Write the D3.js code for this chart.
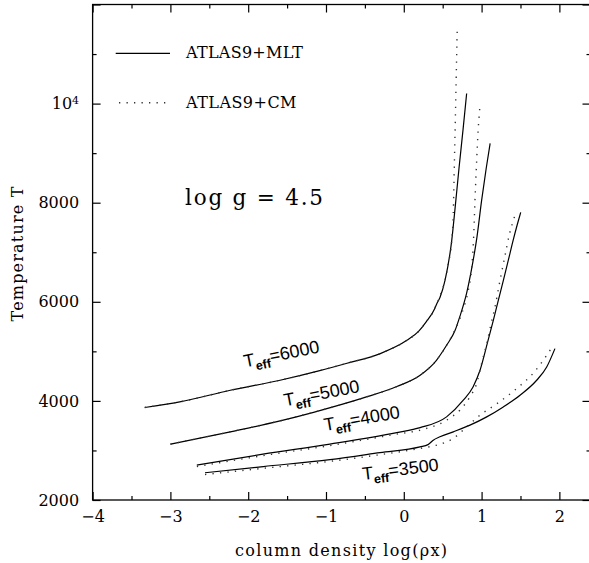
<!DOCTYPE html>
<html>
<head>
<meta charset="utf-8">
<script src="https://cdn.jsdelivr.net/npm/d3@7"></script>
<style>
  html, body { margin: 0; padding: 0; background: #fff; }
  svg { display: block; }
</style>
</head>
<body>
<svg id="chart" width="589" height="563"></svg>
<script>
// Axis ticks
const xMajorTicks = [-4, -3, -2, -1, 0, 1, 2];
const xMinorTicks = [-3.5, -2.5, -1.5, -0.5, 0.5, 1.5];
const yMajorTicks = [2000, 4000, 6000, 8000, 10000, 12000];
const yMinorTicks = [3000, 5000, 7000, 9000, 11000];
const yLabelled = [2000, 4000, 6000, 8000, 10000];

// Temperature structure T(log rho x), pairs of [log(rho x), T]
// ATLAS9 + mixing-length convection (solid)
const mlt6000 = [[-3.33,3867],[-2.88,3980],[-2.23,4215],[-1.59,4417],[-1.08,4610],[-0.73,4760],[-0.31,4950],[0.04,5222],[0.19,5404],[0.29,5600],[0.40,5870],[0.42,5947],[0.465,6088],[0.53,6431],[0.616,7236],[0.66,7900],[0.71,8700],[0.76,9450],[0.808,10203]];
const mlt5000 = [[-3.00,3128],[-2.23,3376],[-1.59,3597],[-1.16,3770],[-0.52,4060],[-0.09,4290],[0.21,4518],[0.42,4820],[0.55,5122],[0.66,5424],[0.72,5700],[0.81,6190],[0.87,6650],[0.94,7300],[1.00,8042],[1.06,8700],[1.11,9196]];
const mlt4000 = [[-2.66,2705],[-1.81,2926],[-0.95,3128],[-0.09,3360],[0.21,3460],[0.55,3678],[0.765,4014],[0.89,4282],[0.98,4618],[1.08,5200],[1.15,5620],[1.215,6028],[1.28,6431],[1.343,6834],[1.407,7250],[1.459,7560],[1.503,7806]];
const mlt3500 = [[-2.555,2550],[-1.806,2675],[-0.949,2816],[-0.306,2957],[0.208,3073],[0.311,3118],[0.379,3208],[0.465,3275],[0.636,3376],[0.851,3511],[1.066,3678],[1.279,3879],[1.494,4115],[1.708,4417],[1.837,4685],[1.943,5055]];

// ATLAS9 + Canuto-Mazzitelli convection (dotted)
const cm6000 = [[-3.33,3867],[-2.88,3980],[-2.23,4215],[-1.59,4417],[-1.08,4610],[-0.73,4760],[-0.31,4950],[0.04,5222],[0.19,5404],[0.29,5600],[0.40,5870],[0.42,5947],[0.443,6028],[0.487,6209],[0.53,6431],[0.572,6767],[0.616,7236],[0.636,7774],[0.650,8781],[0.664,9788],[0.672,10392],[0.688,11567]];
const cm5000 = [[-3.00,3128],[-2.23,3376],[-1.59,3597],[-1.16,3770],[-0.52,4060],[-0.09,4290],[0.21,4518],[0.42,4820],[0.55,5122],[0.636,5363],[0.722,5665],[0.787,5968],[0.829,6229],[0.873,6699],[0.896,7236],[0.915,8042],[0.934,8747],[0.954,9412],[0.979,9955]];
const cm4000 = [[-2.66,2675],[-1.81,2896],[-0.95,3098],[-0.09,3330],[0.21,3410],[0.55,3611],[0.72,3813],[0.85,4081],[0.937,4350],[1.00,4753],[1.066,5156],[1.12,5540],[1.172,5893],[1.237,6431],[1.301,6930],[1.356,7350],[1.40,7600],[1.442,7806]];
const cm3500 = [[-2.555,2514],[-1.806,2640],[-0.949,2780],[-0.306,2915],[0.208,3041],[0.423,3108],[0.636,3243],[0.808,3476],[0.979,3712],[1.194,3940],[1.451,4250],[1.665,4560],[1.837,4920],[1.914,5102]];

const teffNames = ["6000", "5000", "4000", "3500"];
const legendNames = ["ATLAS9+MLT", "ATLAS9+CM"];

const svg = d3.select("#chart");
const serif = "'DejaVu Serif', 'Liberation Serif', serif";
const sans = "'Liberation Sans', Arial, sans-serif";

const plotLeft = 92.6, plotRight = 590.5, plotTop = 4.5, plotBottom = 500;
const x = d3.scaleLinear().domain([-4, 2.4]).range([plotLeft, plotRight]);
const y = d3.scaleLinear().domain([2000, 12000]).range([plotBottom, plotTop]);

// Frame
svg.append("rect")
  .attr("x", plotLeft).attr("y", plotTop)
  .attr("width", plotRight - plotLeft).attr("height", plotBottom - plotTop)
  .attr("fill", "none").attr("stroke", "#000").attr("stroke-width", 1.3);

function styleAxis(g) {
  g.select(".domain").remove();
  g.selectAll(".tick line").attr("stroke", "#000").attr("stroke-width", 1.2);
  g.selectAll(".tick text").attr("fill", "#000").attr("font-family", serif).attr("font-size", 16);
}

// Bottom axis (labelled) + minor ticks
svg.append("g").attr("transform", `translate(0,${plotBottom})`)
  .call(d3.axisBottom(x).tickValues(xMajorTicks).tickSize(-8).tickSizeOuter(0).tickPadding(10.5)
    .tickFormat(d => d < 0 ? "\u2212" + Math.abs(d) : String(d)))
  .call(styleAxis);
svg.append("g").attr("transform", `translate(0,${plotBottom})`)
  .call(d3.axisBottom(x).tickValues(xMinorTicks).tickSize(-4).tickSizeOuter(0).tickFormat(""))
  .call(styleAxis);

// Top axis
svg.append("g").attr("transform", `translate(0,${plotTop})`)
  .call(d3.axisTop(x).tickValues(xMajorTicks).tickSize(-8).tickSizeOuter(0).tickFormat(""))
  .call(styleAxis);
svg.append("g").attr("transform", `translate(0,${plotTop})`)
  .call(d3.axisTop(x).tickValues(xMinorTicks).tickSize(-4).tickSizeOuter(0).tickFormat(""))
  .call(styleAxis);

// Left axis
const yAxisG = svg.append("g").attr("transform", `translate(${plotLeft},0)`)
  .call(d3.axisLeft(y).tickValues(yMajorTicks).tickSize(-8).tickSizeOuter(0).tickPadding(13.5)
    .tickFormat(d => yLabelled.includes(d) ? String(d) : ""))
  .call(styleAxis);
svg.append("g").attr("transform", `translate(${plotLeft},0)`)
  .call(d3.axisLeft(y).tickValues(yMinorTicks).tickSize(-4).tickSizeOuter(0).tickFormat(""))
  .call(styleAxis);

// 10^4 written as a power of ten
yAxisG.selectAll(".tick text").filter(d => d === 10000)
  .text(null)
  .call(t => {
    t.append("tspan").text("10");
    t.append("tspan").attr("dy", "-0.45em").attr("font-size", 11).text("4");
  });

// Right axis
svg.append("g").attr("transform", `translate(${plotRight},0)`)
  .call(d3.axisRight(y).tickValues(yMajorTicks).tickSize(-8).tickSizeOuter(0).tickFormat(""))
  .call(styleAxis);
svg.append("g").attr("transform", `translate(${plotRight},0)`)
  .call(d3.axisRight(y).tickValues(yMinorTicks).tickSize(-4).tickSizeOuter(0).tickFormat(""))
  .call(styleAxis);

// Axis titles
svg.append("text")
  .attr("transform", "translate(23,254) rotate(-90)")
  .attr("text-anchor", "middle")
  .attr("font-family", serif).attr("font-size", 16)
  .attr("textLength", 135).attr("lengthAdjust", "spacing")
  .text("Temperature T");

svg.append("text")
  .attr("x", 341).attr("y", 556)
  .attr("text-anchor", "middle")
  .attr("font-family", serif).attr("font-size", 16)
  .attr("textLength", 212).attr("lengthAdjust", "spacing")
  .text("column density log(\u03C1x)");

// Curves
const line = d3.line().x(d => x(d[0])).y(d => y(d[1])).curve(d3.curveMonotoneX);
const plot = svg.append("g");

[mlt6000, mlt5000, mlt4000, mlt3500].forEach(s => {
  plot.append("path").datum(s).attr("d", line)
    .attr("fill", "none").attr("stroke", "#000").attr("stroke-width", 1.2);
});
[cm6000, cm5000, cm4000, cm3500].forEach(s => {
  plot.append("path").datum(s).attr("d", line)
    .attr("fill", "none").attr("stroke", "#333").attr("stroke-width", 1.4)
    .attr("stroke-dasharray", "1.3 6.2");
});

// Legend
const legend = svg.append("g");
legend.append("line").attr("x1", 115.7).attr("x2", 170).attr("y1", 53.3).attr("y2", 53.3)
  .attr("stroke", "#000").attr("stroke-width", 1.2);
legend.append("text").attr("x", 186).attr("y", 58.4)
  .attr("font-family", serif).attr("font-size", 16)
  .attr("textLength", 117).attr("lengthAdjust", "spacing")
  .text(legendNames[0]);
legend.append("line").attr("x1", 119).attr("x2", 168).attr("y1", 102.7).attr("y2", 102.7)
  .attr("stroke", "#333").attr("stroke-width", 1.4).attr("stroke-dasharray", "1.3 6.2");
legend.append("text").attr("x", 186).attr("y", 108.4)
  .attr("font-family", serif).attr("font-size", 16)
  .attr("textLength", 110.5).attr("lengthAdjust", "spacing")
  .text(legendNames[1]);

// Surface gravity note
svg.append("text").attr("x", 185).attr("y", 205)
  .attr("font-family", serif).attr("font-size", 21.5)
  .attr("textLength", 138).attr("lengthAdjust", "spacing")
  .text("log g = 4.5");

// Effective temperature labels along the curves
const labelPlacement = [
  { px: 245, py: 367.5, angle: -11.5 },
  { px: 285, py: 406.5, angle: -11 },
  { px: 325, py: 431, angle: -10 },
  { px: 363, py: 480, angle: -7 }
];
teffNames.forEach((name, i) => {
  const p = labelPlacement[i];
  const t = svg.append("text")
    .attr("transform", `translate(${p.px},${p.py}) rotate(${p.angle})`)
    .attr("font-family", sans).attr("font-size", 18);
  t.append("tspan").text("T");
  t.append("tspan").attr("dy", 5).attr("font-size", 12.5).attr("font-weight", "bold").text("eff");
  t.append("tspan").attr("dy", -5).text("=" + name);
});
</script>
</body>
</html>
